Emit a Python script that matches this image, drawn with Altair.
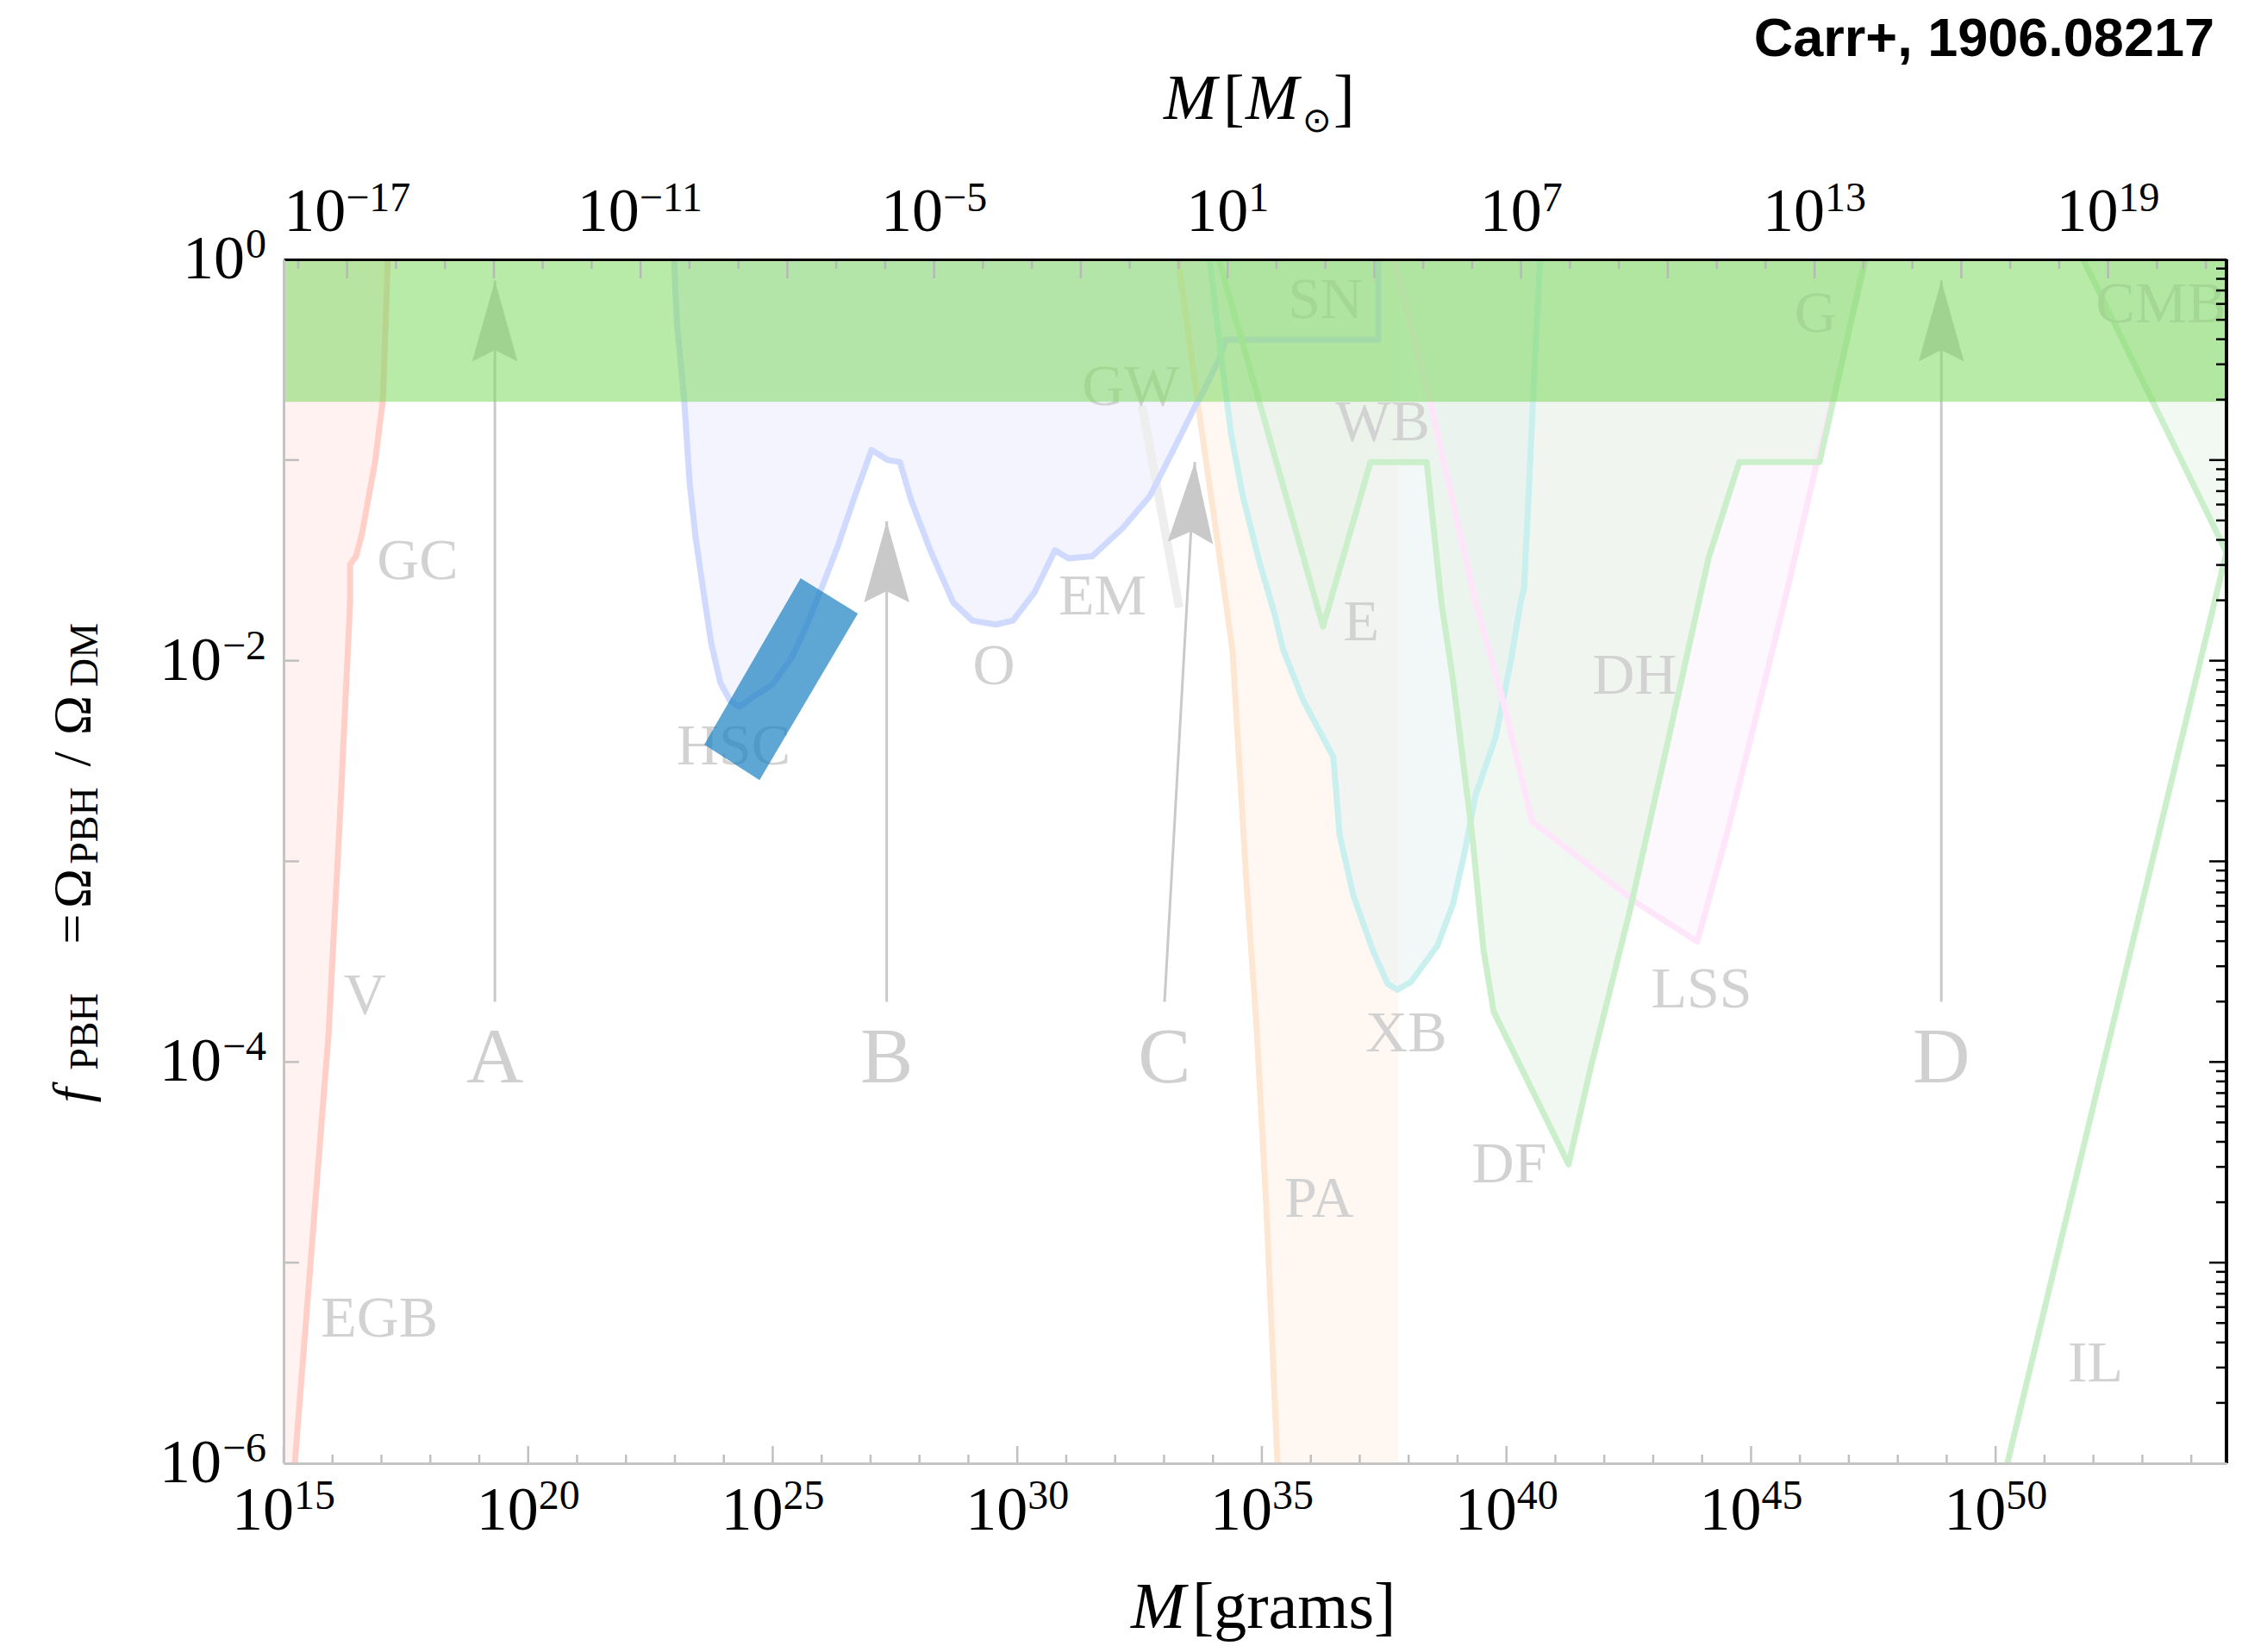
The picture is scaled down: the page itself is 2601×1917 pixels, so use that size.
import altair as alt
import numpy as np
import pandas as pd

# ---------------- geometry / style ----------------
W, H = 2254, 1397
XMIN, XMAX = 15.0, 54.72          # log10(M / g)
YMIN, YMAX = -6.0, 0.0            # log10(f_PBH)
LOG_MSUN = 33.2986                # log10(M_sun / g)
SERIF = "Liberation Serif"
PXX = W / (XMAX - XMIN)
PXY = H / (YMAX - YMIN)

# ---------------- data: log10 M[g], log10 f ----------------
evap_logM = [15.23, 15.78, 15.92, 16.16, 16.36, 16.36, 16.48, 16.60, 16.87, 17.03, 17.13]
evap_logf = [-6.0, -4.29, -3.86, -2.74, -1.71, -1.52, -1.48, -1.37, -1.01, -0.70, 0.0]

lens_logM = [22.98, 23.04, 23.19, 23.30, 23.42, 23.58, 23.74, 23.93, 24.13, 24.32,
             24.60, 24.99, 25.40, 25.70, 25.98, 26.33, 26.65, 27.02, 27.35, 27.60,
             27.83, 28.22, 28.69, 29.08, 29.56, 29.91, 30.35, 30.77, 31.05, 31.53,
             32.15, 32.71, 33.19, 33.64, 33.80, 34.14, 34.26, 37.38, 37.38]
lens_logf = [0.0, -0.31, -0.70, -1.11, -1.38, -1.65, -1.91, -2.11, -2.20, -2.23,
             -2.18, -2.12, -1.98, -1.82, -1.65, -1.43, -1.20, -0.95, -1.00, -1.01,
             -1.20, -1.45, -1.71, -1.80, -1.82, -1.80, -1.66, -1.45, -1.49, -1.48,
             -1.34, -1.18, -0.95, -0.73, -0.66, -0.49, -0.40, -0.40, 0.0]

pa_logM = [33.29, 33.68, 34.05, 34.40, 34.67, 34.89, 35.09, 35.32]
pa_logf = [0.0, -0.70, -1.33, -1.95, -3.05, -3.82, -4.72, -6.0]
pa_edge = 37.79

xb_logM = [33.93, 34.14, 34.37, 34.61, 34.93, 35.25, 35.44, 35.85, 36.46, 36.59,
           36.87, 37.26, 37.57, 37.77, 38.05, 38.59, 38.91, 39.14, 39.37, 39.78,
           40.09, 40.29, 40.36, 40.48, 40.60, 40.69]
xb_logf = [0.0, -0.43, -0.87, -1.18, -1.49, -1.76, -1.95, -2.20, -2.48, -2.87,
           -3.17, -3.44, -3.61, -3.64, -3.60, -3.42, -3.21, -2.96, -2.67, -2.38,
           -2.00, -1.71, -1.64, -1.03, -0.41, 0.0]

dyn_logM = [34.12, 36.25, 37.22, 38.37, 38.67, 38.91, 39.30, 39.53, 39.74, 41.27,
            41.73, 42.52, 43.32, 44.13, 44.76, 46.40, 47.33]
dyn_logf = [0.0, -1.83, -1.01, -1.01, -1.71, -2.10, -2.87, -3.44, -3.75, -4.51,
            -4.02, -3.25, -2.38, -1.49, -1.01, -1.01, 0.0]

lss_logM = [37.70, 38.45, 39.37, 39.93, 40.52, 42.68, 43.90, 44.50, 45.68, 46.33, 47.35]
lss_logf = [0.0, -0.72, -1.71, -2.20, -2.80, -3.21, -3.40, -2.87, -1.71, -1.03, 0.0]

cmb_logM = [51.79, 54.72]
cmb_logf = [0.0, -1.46]
il_logM = [50.24, 54.72]
il_logf = [-6.0, -1.46]

gw_logM = [32.55, 33.31]
gw_logf = [-0.73, -1.735]

band_lo, band_hi = -0.71, 0.0

rect_logM = [23.60, 25.57, 26.74, 24.73]   # left, top, right, bottom corners
rect_logf = [-2.418, -1.589, -1.765, -2.595]

arrow_names = ["A", "B", "C", "D"]
arrow_base_logM = [19.32, 27.33, 33.01, 48.89]
arrow_tip_logM = [19.32, 27.33, 33.63, 48.89]
arrow_base_logf = [-3.70, -3.70, -3.70, -3.70]
arrow_tip_logf = [-0.105, -1.306, -1.01, -0.105]
letter_logf = -3.98

labels = ["GC", "V", "EGB", "HSC", "O", "EM", "GW", "SN", "WB", "E", "XB", "PA",
          "DF", "DH", "LSS", "G", "CMB", "IL"]
lab_logM = [17.74, 16.66, 16.96, 24.20, 29.52, 31.74, 32.32, 36.30, 37.47, 37.03,
            37.95, 36.17, 40.06, 42.62, 43.99, 46.32, 53.38, 52.04]
lab_logf = [-1.507, -3.673, -5.283, -2.43, -2.03, -1.685, -0.638, -0.206, -0.814,
            -1.813, -3.862, -4.685, -4.512, -2.078, -3.64, -0.276, -0.226, -5.505]

x_major = [15, 20, 25, 30, 35, 40, 45, 50]      # bottom axis: log10 M[g]
y_major = [-6, -4, -2, 0]                       # left axis: log10 f
top_major = [-17, -11, -5, 1, 7, 13, 19]        # top axis: log10 M[M_sun]

# ---------------- helpers ----------------
xsc = alt.Scale(domain=[XMIN, XMAX], nice=False, zero=False)
ysc = alt.Scale(domain=[YMIN, YMAX], nice=False, zero=False)
BASE_FS, EXP_FS = 72, 48

xaxis = alt.Axis(values=x_major, labels=False, ticks=False, grid=False,
                 domain=True, domainColor="#c4c4c4", domainWidth=3, title=None, zindex=1)
yaxis = alt.Axis(values=y_major, labels=False, ticks=False, grid=False,
                 domain=True, domainColor="#c4c4c4", domainWidth=3, title=None, zindex=1)


def X(f="x"):
    return alt.X(f"{f}:Q", scale=xsc, axis=xaxis, title=None)


def Y(f="y"):
    return alt.Y(f"{f}:Q", scale=ysc, axis=yaxis, title=None)


def fill_above(lm, lf, color, op=0.5):
    d = pd.DataFrame({"x": lm, "y": lf, "t": [YMAX] * len(lm)})
    return alt.Chart(d).mark_area(color=color, opacity=op, orient="vertical", clip=True).encode(
        x=X(), y=Y(), y2="t:Q")


def fill_side(lm, lf, edge, color, op=0.5):
    d = pd.DataFrame({"x": lm, "y": lf, "e": [edge] * len(lm)})
    return alt.Chart(d).mark_area(color=color, opacity=op, orient="horizontal", clip=True).encode(
        y=Y(), x=X(), x2="e:Q")


def curve(lm, lf, color, width=7):
    d = pd.DataFrame({"x": lm, "y": lf, "i": list(range(len(lm)))})
    return alt.Chart(d).mark_line(color=color, strokeWidth=width, clip=True,
                                  strokeJoin="round").encode(x=X(), y=Y(), order="i:Q")


def vticks(vals, y0, y1, color, width=2.5):
    return alt.Chart(pd.DataFrame({"x": vals})).mark_rule(color=color, strokeWidth=width).encode(
        x=X(), y=alt.value(y0), y2=alt.value(y1))


def hticks(vals, x0, x1, color, width=2.5):
    return alt.Chart(pd.DataFrame({"y": vals})).mark_rule(color=color, strokeWidth=width).encode(
        y=Y(), x=alt.value(x0), x2=alt.value(x1))


def txt(s, x, y, size, style="normal", angle=0, align="left", font=SERIF,
        weight="normal", color="black"):
    return alt.Chart(pd.DataFrame({"t": [s]})).mark_text(
        font=font, fontSize=size, fontStyle=style, fontWeight=weight, angle=angle,
        align=align, baseline="alphabetic", color=color).encode(
        text="t:N", x=alt.value(x), y=alt.value(y))


def exp_str(v):
    return str(v).replace("-", "\u2212")


def exp_width(v):
    return sum(0.564 * EXP_FS if c == "\u2212" else 0.5 * EXP_FS for c in exp_str(v))


def xlabel(v_logM, exponent, y_base, y_exp):
    """'10^n' tick label centred on data position v_logM."""
    ew = exp_width(exponent)
    dx0 = -(BASE_FS + ew) / 2
    d = pd.DataFrame({"x": [v_logM]})
    base = alt.Chart(d).mark_text(font=SERIF, fontSize=BASE_FS, align="left", baseline="alphabetic",
                                  dx=dx0, color="black", text="10").encode(x=X(), y=alt.value(y_base))
    sup = alt.Chart(d).mark_text(font=SERIF, fontSize=EXP_FS, align="left", baseline="alphabetic",
                                 dx=dx0 + BASE_FS, color="black", text=exp_str(exponent)).encode(
        x=X(), y=alt.value(y_exp))
    return [base, sup]


def ylabel(v):
    ew = exp_width(v)
    d = pd.DataFrame({"y": [v]})
    sup = alt.Chart(d).mark_text(font=SERIF, fontSize=EXP_FS, align="right", baseline="alphabetic",
                                 dy=-2, color="black", text=exp_str(v)).encode(
        y=Y(), x=alt.value(-20))
    base = alt.Chart(d).mark_text(font=SERIF, fontSize=BASE_FS, align="right", baseline="alphabetic",
                                  dy=22, color="black", text="10").encode(
        y=Y(), x=alt.value(-21 - ew))
    return [base, sup]


# ---------------- layers ----------------
fills = [
    fill_side(evap_logM, evap_logf, XMIN, "#ffe6e2"),
    fill_side(pa_logM, pa_logf, pa_edge, "#fff0e4"),
    fill_above(lss_logM, lss_logf, "#f3e5f7", op=0.25),
    fill_above(lens_logM, lens_logf, "#e8eafd"),
    fill_above(xb_logM, xb_logf, "#e6f2f2"),
    fill_above(dyn_logM, dyn_logf, "#e3f1e3"),
    fill_above(cmb_logM, cmb_logf, "#e6f3e6"),
]

gw = curve(gw_logM, gw_logf, "#eeeeee", width=10)

lines = [
    curve(evap_logM, evap_logf, "#ffcfc8"),
    curve(pa_logM, pa_logf, "#fde7d2"),
    curve(lens_logM, lens_logf, "#d0daff"),
    curve(xb_logM, xb_logf, "#c9efef"),
    curve(lss_logM, lss_logf, "#ffe5fa"),
    curve(dyn_logM, dyn_logf, "#cbeecb"),
    curve(cmb_logM, cmb_logf, "#cbeecb"),
    curve(il_logM, il_logf, "#cbeecb"),
]

# arrows
ad = pd.DataFrame({"n": arrow_names, "x": arrow_base_logM, "y": arrow_base_logf,
                   "x2": arrow_tip_logM, "y2": arrow_tip_logf})
arrow_lines = alt.Chart(ad).mark_rule(color="#c9c9c9", strokeWidth=3).encode(
    x=X(), y=Y(), x2="x2:Q", y2="y2:Q")

HEAD = 94.0
dxp = (np.array(arrow_tip_logM) - np.array(arrow_base_logM)) * PXX
dyp = (np.array(arrow_tip_logf) - np.array(arrow_base_logf)) * PXY
ln = np.hypot(dxp, dyp)
ux, uy = dxp / ln, dyp / ln
hd = pd.DataFrame({
    "x": np.array(arrow_tip_logM) - HEAD / 2 * ux / PXX,
    "y": np.array(arrow_tip_logf) - HEAD / 2 * uy / PXY,
    "a": (np.degrees(np.arctan2(ux, uy)) + 360) % 360,
})
heads = alt.Chart(hd).mark_point(
    shape="M0,-1L0.56,1L0,0.72L-0.56,1Z", filled=True, size=HEAD ** 2,
    color="#c9c9c9", opacity=1, strokeWidth=0).encode(
    x=X(), y=Y(), angle=alt.Angle("a:Q", scale=None))

letters = alt.Chart(pd.DataFrame({"t": arrow_names, "x": arrow_base_logM,
                                  "y": [letter_logf] * 4})).mark_text(
    font=SERIF, fontSize=92, color="#d0d0d0", baseline="middle").encode(
    x=X(), y=Y(), text="t:N")

labs = alt.Chart(pd.DataFrame({"t": labels, "x": lab_logM, "y": lab_logf})).mark_text(
    font=SERIF, fontSize=68, color="#d2d2d2", baseline="middle", clip=True).encode(
    x=X(), y=Y(), text="t:N")

band = alt.Chart(pd.DataFrame({"x": [XMIN], "x2": [XMAX], "y": [band_lo], "y2": [band_hi]})).mark_rect(
    color="#80da64", opacity=0.56).encode(x=X(), x2="x2:Q", y=Y(), y2="y2:Q")

# HSC highlight box (rotated rectangle) as an area between its upper and lower edges
rl, rt, rr, rb = 0, 1, 2, 3
rx = sorted(rect_logM)
upper = np.interp(rx, [rect_logM[rl], rect_logM[rt], rect_logM[rr]],
                  [rect_logf[rl], rect_logf[rt], rect_logf[rr]])
lower = np.interp(rx, [rect_logM[rl], rect_logM[rb], rect_logM[rr]],
                  [rect_logf[rl], rect_logf[rb], rect_logf[rr]])
box = alt.Chart(pd.DataFrame({"x": rx, "y": upper, "y2": lower})).mark_area(
    color="#1a80c0", opacity=0.7, orient="vertical").encode(x=X(), y=Y(), y2="y2:Q")

# tick marks (inward)
gx = list(range(15, 55))
ticks = [
    vticks([v for v in gx if v % 5 == 0], H, H - 20, "#c0c0c0"),
    vticks([v for v in gx if v % 5 != 0], H, H - 10, "#c0c0c0"),
]
tk = [k for k in range(-18, 22) if XMIN <= k + LOG_MSUN <= XMAX]
ticks += [
    vticks([k + LOG_MSUN for k in tk if (k - 1) % 3 == 0], 0, 22, "#b8b8b8"),
    vticks([k + LOG_MSUN for k in tk if (k - 1) % 3 != 0], 0, 11, "#b8b8b8"),
    hticks([-5, -4, -3, -2, -1], 0, 18, "#c0c0c0"),
    hticks([-5, -4, -3, -2, -1], W, W - 20, "black"),
    hticks([d + np.log10(k) for d in range(-6, 0) for k in range(2, 10)], W, W - 12, "black"),
]
right_frame = alt.Chart(pd.DataFrame({"a": [0]})).mark_rule(color="black", strokeWidth=4).encode(
    x=alt.value(W), y=alt.value(0), y2=alt.value(H))

# tick labels 10^n
ticklabels = []
for v in x_major:
    ticklabels += xlabel(v, v, H + 77, H + 53)
for v in top_major:
    ticklabels += xlabel(v + LOG_MSUN, v, -33, -56)
for v in y_major:
    ticklabels += ylabel(v)


def rot(s, y, size, sub=False, style="normal"):
    # rotated y-title piece, centred at plot-relative y
    return alt.Chart(pd.DataFrame({"t": [s]})).mark_text(
        font=SERIF, fontSize=size, fontStyle=style, angle=270, align="center",
        baseline="alphabetic", color="black").encode(
        text="t:N", x=alt.value(-216 if sub else -225), y=alt.value(y))


titles = [
    txt("Carr+, 1906.08217", 2240, -236, 63, align="right", font="Liberation Sans", weight="bold"),
    # top axis title  M[M_sun]
    txt("M", 1021, -163, 74, style="italic"),
    txt("[", 1090, -163, 74),
    txt("M", 1116, -163, 74, style="italic"),
    txt("⊙", 1182, -148, 40),
    txt("]", 1218, -163, 74),
    # bottom axis title  M[grams]
    txt("M", 983, 1588, 76, style="italic"),
    txt("[grams]", 1054, 1588, 76),
    # y axis title  f_PBH = Ω_PBH / Ω_DM
    rot("f", 970, 62, style="italic"),
    rot("PBH", 896, 46, sub=True),
    rot("=", 777, 62),
    rot("Ω", 730, 62),
    rot("PBH", 657, 46, sub=True),
    rot("/", 580, 62),
    rot("Ω", 529, 62),
    rot("DM", 459, 46, sub=True),
]

inner = alt.layer(*fills, gw, *lines, arrow_lines, heads, letters, labs, band, box,
                  *ticks, right_frame, *ticklabels, *titles)

# top axis frame (solar-mass axis, labels drawn above)
tops = alt.Chart(pd.DataFrame({"m": top_major})).mark_point(opacity=0).encode(
    x=alt.X("m:Q", scale=alt.Scale(domain=[XMIN - LOG_MSUN, XMAX - LOG_MSUN], nice=False, zero=False),
            axis=alt.Axis(orient="top", values=top_major, labels=False, ticks=False, grid=False,
                          domain=True, domainColor="black", domainWidth=3, title=None, zindex=1)),
    y=alt.value(0))

chart = alt.layer(inner, tops).resolve_scale(x="independent").properties(
    width=W, height=H,
    padding={"left": 321, "top": 293, "right": 10, "bottom": 211},
    autosize=alt.AutoSizeParams(type="none"),
).configure_view(stroke=None)

chart.save("out.html", embed_options={"renderer": "svg", "actions": False})
